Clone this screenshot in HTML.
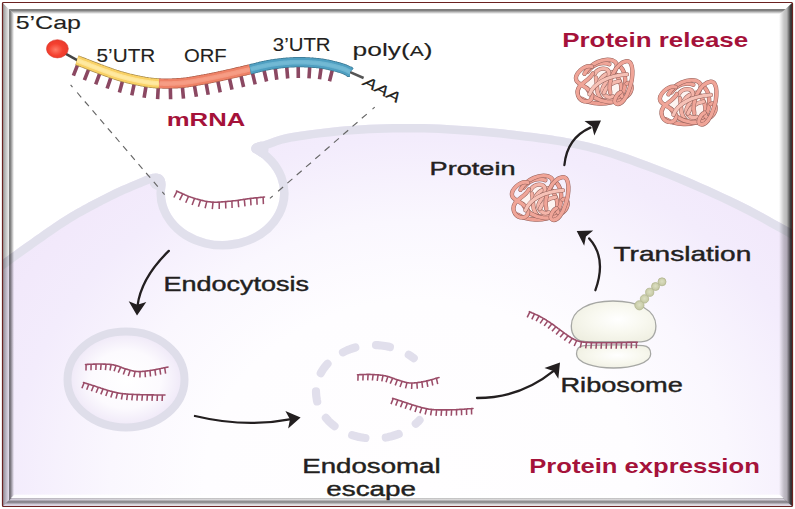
<!DOCTYPE html>
<html lang="en">
<head>
<meta charset="utf-8">
<title>mRNA delivery and protein expression</title>
<style>
html,body{margin:0;padding:0;background:#fff;}
body{width:795px;height:509px;overflow:hidden;}
svg{display:block;}
text{font-family:"Liberation Sans",sans-serif;fill:#231f20;stroke:#231f20;stroke-width:0.12px;}
.m{stroke-width:0.4px;}
.b{font-weight:bold;fill:#a5123a;stroke:none;}
</style>
</head>
<body>
<svg width="795" height="509" viewBox="0 0 795 509">
<defs>
  <radialGradient id="cellg" gradientUnits="userSpaceOnUse" cx="420" cy="480" r="537.5" gradientTransform="translate(420 480) scale(1 0.837) translate(-420 -480)">
    <stop offset="0" stop-color="#fffeff"/>
    <stop offset="0.40" stop-color="#fefdff"/>
    <stop offset="0.576" stop-color="#faf7fe"/>
    <stop offset="0.76" stop-color="#f3ecfc"/>
    <stop offset="0.856" stop-color="#f2e9fb"/>
    <stop offset="1" stop-color="#efe6f9"/>
  </radialGradient>
  <radialGradient id="endog" cx="0.5" cy="0.5" r="0.5">
    <stop offset="0" stop-color="#ffffff"/>
    <stop offset="0.6" stop-color="#fcfafe"/>
    <stop offset="1" stop-color="#eee7f7"/>
  </radialGradient>
  <radialGradient id="capg" cx="0.42" cy="0.55" r="0.6">
    <stop offset="0" stop-color="#ff7a66"/>
    <stop offset="0.55" stop-color="#f4402f"/>
    <stop offset="1" stop-color="#e8392b"/>
  </radialGradient>
  <radialGradient id="ribg" cx="0.55" cy="0.45" r="0.65">
    <stop offset="0" stop-color="#ffffff"/>
    <stop offset="0.5" stop-color="#f8f8ef"/>
    <stop offset="1" stop-color="#eeeee0"/>
  </radialGradient>
  <radialGradient id="beadg" cx="0.5" cy="0.45" r="0.55">
    <stop offset="0" stop-color="#dcdfc2"/>
    <stop offset="1" stop-color="#c4c7a2"/>
  </radialGradient>
  <clipPath id="cellclip"><path id="cellpath" d="M-14 530 L-14.0 272.0 L-11.9 270.4 L-9.1 268.4 L-5.8 265.9 L-2.1 263.2 L1.9 260.2 L6.0 257.2 L10.1 254.2 L14.0 251.4 L17.9 248.6 L22.1 245.6 L26.4 242.5 L30.8 239.4 L35.1 236.3 L39.3 233.4 L43.3 230.6 L47.0 228.0 L50.4 225.7 L53.6 223.5 L56.6 221.5 L59.5 219.6 L62.3 217.8 L65.1 216.0 L67.9 214.3 L70.8 212.5 L73.8 210.7 L76.7 209.0 L79.7 207.4 L82.6 205.8 L85.6 204.2 L88.5 202.6 L91.5 201.1 L94.4 199.5 L97.4 198.0 L100.3 196.4 L103.3 194.9 L106.2 193.4 L109.2 191.9 L112.1 190.5 L115.1 189.1 L118.0 187.7 L121.1 186.3 L124.4 184.9 L127.9 183.4 L131.2 182.0 L134.4 180.7 L137.3 179.5 L139.7 178.6 L141.5 177.8 C150 174 158 171.3 163 176.5 C165.6 179.5 165.4 183 165.6 186 A57.5 48 0 1 0 252.4 152 C249 146.5 253.5 142.3 263 141.5 L265.0 140.8 L267.3 139.9 L270.1 138.9 L273.4 137.7 L277.1 136.5 L281.3 135.2 L286.1 134.1 L291.5 133.0 L297.7 132.0 L304.7 131.0 L312.4 129.9 L320.5 128.9 L329.0 128.0 L337.4 127.1 L345.8 126.3 L353.8 125.7 L361.6 125.2 L369.4 124.8 L377.1 124.4 L384.9 124.2 L392.7 124.0 L400.5 124.0 L408.2 123.9 L416.0 124.0 L423.8 124.1 L431.5 124.3 L439.2 124.6 L447.0 125.0 L454.7 125.4 L462.5 125.9 L470.2 126.4 L478.0 127.0 L486.0 127.7 L494.2 128.5 L502.5 129.3 L510.7 130.3 L518.8 131.2 L526.6 132.2 L533.9 133.1 L540.6 134.0 L546.6 134.8 L552.1 135.6 L557.1 136.4 L561.8 137.1 L566.3 137.9 L570.7 138.8 L575.3 139.7 L580.0 140.7 L584.8 141.8 L589.3 142.8 L593.8 143.9 L598.3 145.1 L602.9 146.4 L607.9 147.8 L613.2 149.5 L619.0 151.4 L625.4 153.6 L632.3 156.0 L639.6 158.7 L647.2 161.5 L655.0 164.4 L662.8 167.4 L670.5 170.4 L678.0 173.5 L685.5 176.6 L693.1 179.8 L700.8 183.2 L708.4 186.6 L716.0 190.0 L723.4 193.4 L730.6 196.7 L737.4 200.0 L744.0 203.3 L750.5 206.6 L756.9 210.0 L763.0 213.3 L768.9 216.6 L774.5 219.7 L779.7 222.6 L784.6 225.3 L789.2 227.8 L793.5 230.3 L797.5 232.6 L801.2 234.7 L804.6 236.7 L807.5 238.4 L810.0 239.9 L812.0 241.0 L812 530 Z"/></clipPath>
  <path id="ah" d="M0 0 L-14 -8.8 L-10.8 0 L-14 8.8 Z" fill="#231f20"/>
  <g id="protein">
<ellipse cx="0" cy="1" rx="20" ry="16" fill="#fdf3f0"/>
<path d="M -22.6 15.7 C -13.7 21.5 2.9 22.7 14.4 16.4" fill="none" stroke="#95615b" stroke-width="4.3" stroke-linecap="round"/><path d="M -22.6 15.7 C -13.7 21.5 2.9 22.7 14.4 16.4" fill="none" stroke="#ee9f92" stroke-width="3.3" stroke-linecap="round"/>
<path d="M -16.9 -11.1 C -11.8 -19.0 -1.9 -21.6 4.9 -18.8" fill="none" stroke="#95615b" stroke-width="4.3" stroke-linecap="round"/><path d="M -16.9 -11.1 C -11.8 -19.0 -1.9 -21.6 4.9 -18.8" fill="none" stroke="#f0a598" stroke-width="3.3" stroke-linecap="round"/>
<path d="M -8.6 -5.4 C -6.6 2.9 -9.2 10.6 -2.8 16.4" fill="none" stroke="#95615b" stroke-width="4.3" stroke-linecap="round"/><path d="M -8.6 -5.4 C -6.6 2.9 -9.2 10.6 -2.8 16.4" fill="none" stroke="#f3b0a3" stroke-width="3.3" stroke-linecap="round"/>
<path d="M -11.1 14.7 C -3.5 18.8 6.8 18.5 14.7 12.1" fill="none" stroke="#95615b" stroke-width="4.3" stroke-linecap="round"/><path d="M -11.1 14.7 C -3.5 18.8 6.8 18.5 14.7 12.1" fill="none" stroke="#f3b0a3" stroke-width="3.3" stroke-linecap="round"/>
<path d="M 11.9 -7.9 C 17.6 0.4 18.9 8.1 13.8 15.1" fill="none" stroke="#95615b" stroke-width="4.3" stroke-linecap="round"/><path d="M 11.9 -7.9 C 17.6 0.4 18.9 8.1 13.8 15.1" fill="none" stroke="#f0a598" stroke-width="3.3" stroke-linecap="round"/>
<path d="M 16.0 -16.2 C 21.1 -11.1 22.4 0.6 18.5 9.6" fill="none" stroke="#95615b" stroke-width="4.3" stroke-linecap="round"/><path d="M 16.0 -16.2 C 21.1 -11.1 22.4 0.6 18.5 9.6" fill="none" stroke="#ee9f92" stroke-width="3.3" stroke-linecap="round"/>
<path d="M -20.1 -9.2 C -13.7 -20.1 -0.9 -25.2 8.1 -22.6 C 15.1 -20.1 12.5 -12.4 6.1 -6.6" fill="none" stroke="#95615b" stroke-width="4.3" stroke-linecap="round"/><path d="M -20.1 -9.2 C -13.7 -20.1 -0.9 -25.2 8.1 -22.6 C 15.1 -20.1 12.5 -12.4 6.1 -6.6" fill="none" stroke="#f0a598" stroke-width="3.3" stroke-linecap="round"/>
<path d="M -5.8 -0.3 C -3.2 -7.0 3.2 -10.9 9.8 -11.1" fill="none" stroke="#95615b" stroke-width="4.3" stroke-linecap="round"/><path d="M -5.8 -0.3 C -3.2 -7.0 3.2 -10.9 9.8 -11.1" fill="none" stroke="#f5b9ad" stroke-width="3.3" stroke-linecap="round"/>
<path d="M -9.8 -9.2 C -6.0 -15.6 3.6 -16.2 4.5 -9.8 C 5.5 -3.5 -0.9 0.4 -1.9 5.5 C -2.9 10.6 2.9 16.4 8.3 13.4" fill="none" stroke="#95615b" stroke-width="4.3" stroke-linecap="round"/><path d="M -9.8 -9.2 C -6.0 -15.6 3.6 -16.2 4.5 -9.8 C 5.5 -3.5 -0.9 0.4 -1.9 5.5 C -2.9 10.6 2.9 16.4 8.3 13.4" fill="none" stroke="#f4b5a9" stroke-width="3.3" stroke-linecap="round"/>
<path d="M -0.6 10.0 C 1.9 3.2 7.0 -0.6 15.0 -1.9" fill="none" stroke="#95615b" stroke-width="4.3" stroke-linecap="round"/><path d="M -0.6 10.0 C 1.9 3.2 7.0 -0.6 15.0 -1.9" fill="none" stroke="#f5b9ad" stroke-width="3.3" stroke-linecap="round"/>
<path d="M -17.5 5.5 C -13.7 13.2 -7.3 17.6 2.9 18.8 C 11.9 19.8 20.8 17.3 23.6 9.3" fill="none" stroke="#95615b" stroke-width="4.3" stroke-linecap="round"/><path d="M -17.5 5.5 C -13.7 13.2 -7.3 17.6 2.9 18.8 C 11.9 19.8 20.8 17.3 23.6 9.3" fill="none" stroke="#f0a598" stroke-width="3.3" stroke-linecap="round"/>
<path d="M -12.7 -16.5 C -20.1 -19.0 -30.5 -8.6 -28.2 -2.7 C -26.7 1.7 -17.3 3.2 -13.4 9.6 C -10.4 15.2 -15.0 19.8 -20.1 18.3 C -26.5 16.7 -29.0 9.3 -25.2 3.7 C -21.9 -0.9 -14.7 -3.2 -11.6 -9.6" fill="none" stroke="#95615b" stroke-width="4.3" stroke-linecap="round"/><path d="M -12.7 -16.5 C -20.1 -19.0 -30.5 -8.6 -28.2 -2.7 C -26.7 1.7 -17.3 3.2 -13.4 9.6 C -10.4 15.2 -15.0 19.8 -20.1 18.3 C -26.5 16.7 -29.0 9.3 -25.2 3.7 C -21.9 -0.9 -14.7 -3.2 -11.6 -9.6" fill="none" stroke="#f0a598" stroke-width="3.3" stroke-linecap="round"/>
<path d="M 22.1 0.6 C 27.5 -2.2 28.8 5.5 24.9 10.9 C 21.1 16.0 15.7 14.7 17.0 10.6" fill="none" stroke="#95615b" stroke-width="4.3" stroke-linecap="round"/><path d="M 22.1 0.6 C 27.5 -2.2 28.8 5.5 24.9 10.9 C 21.1 16.0 15.7 14.7 17.0 10.6" fill="none" stroke="#f0a598" stroke-width="3.3" stroke-linecap="round"/>
<path d="M 5.8 10.0 C 2.9 -3.5 11.9 -20.1 22.1 -21.9 C 30.0 -22.6 28.8 -4.7 24.9 5.5 C 22.4 14.4 17.0 22.4 11.9 20.8 C 7.8 19.6 11.9 10.9 16.0 9.3" fill="none" stroke="#95615b" stroke-width="4.3" stroke-linecap="round"/><path d="M 5.8 10.0 C 2.9 -3.5 11.9 -20.1 22.1 -21.9 C 30.0 -22.6 28.8 -4.7 24.9 5.5 C 22.4 14.4 17.0 22.4 11.9 20.8 C 7.8 19.6 11.9 10.9 16.0 9.3" fill="none" stroke="#f0a598" stroke-width="3.3" stroke-linecap="round"/>
<path d="M -15.0 11.2 C -11.1 0.6 2.9 -7.3 22.4 -8.6" fill="none" stroke="#95615b" stroke-width="4.3" stroke-linecap="round"/><path d="M -15.0 11.2 C -11.1 0.6 2.9 -7.3 22.4 -8.6" fill="none" stroke="#f6c1b6" stroke-width="3.3" stroke-linecap="round"/>
  </g>
  <linearGradient id="fl" x1="0" x2="1" y1="0" y2="0" gradientUnits="objectBoundingBox">
    <stop offset="0" stop-color="#000" stop-opacity="0.40"/>
    <stop offset="0.46" stop-color="#000" stop-opacity="0.09"/>
    <stop offset="0.5" stop-color="#000" stop-opacity="0.52"/>
    <stop offset="0.62" stop-color="#000" stop-opacity="0.50"/>
    <stop offset="0.92" stop-color="#000" stop-opacity="0"/>
    <stop offset="1" stop-color="#000" stop-opacity="0"/>
  </linearGradient>
  <linearGradient id="ft" x1="0" x2="0" y1="0" y2="1">
    <stop offset="0" stop-color="#fff" stop-opacity="1"/>
    <stop offset="0.46" stop-color="#fff" stop-opacity="1"/>
    <stop offset="0.5" stop-color="#000" stop-opacity="0.52"/>
    <stop offset="0.62" stop-color="#000" stop-opacity="0.50"/>
    <stop offset="0.92" stop-color="#000" stop-opacity="0"/>
    <stop offset="1" stop-color="#000" stop-opacity="0"/>
  </linearGradient>
  <linearGradient id="fr" x1="0" x2="1" y1="0" y2="0">
    <stop offset="0" stop-color="#000" stop-opacity="0"/>
    <stop offset="0.38" stop-color="#000" stop-opacity="0.22"/>
    <stop offset="0.6" stop-color="#000" stop-opacity="0.28"/>
    <stop offset="0.9" stop-color="#000" stop-opacity="0.78"/>
    <stop offset="1" stop-color="#000" stop-opacity="0.8"/>
  </linearGradient>
  <linearGradient id="fb" x1="0" x2="0" y1="0" y2="1">
    <stop offset="0" stop-color="#fff" stop-opacity="0"/>
    <stop offset="0.12" stop-color="#fff" stop-opacity="0.9"/>
    <stop offset="0.33" stop-color="#fff" stop-opacity="0.9"/>
    <stop offset="0.40" stop-color="#000" stop-opacity="0.05"/>
    <stop offset="0.66" stop-color="#000" stop-opacity="0.5"/>
    <stop offset="0.9" stop-color="#000" stop-opacity="0.1"/>
    <stop offset="1" stop-color="#000" stop-opacity="0.1"/>
  </linearGradient>
</defs>

<rect width="795" height="509" fill="#fff"/>

<!-- cell body -->
<use href="#cellpath" fill="url(#cellg)"/>
<use href="#cellpath" fill="none" stroke="#e1e0ec" stroke-width="17" stroke-linejoin="round" clip-path="url(#cellclip)"/>
<g clip-path="url(#cellclip)" fill="#e1e0ec"><circle cx="259.5" cy="150" r="9"/><circle cx="158" cy="181.5" r="8.5"/></g>

<!-- dashed zoom guides -->
<path d="M70.6 84.8 L72.5 87.1 M77.2 92.5 L81.2 97.3 M84.8 101.5 L88.9 106.2 M92.5 110.4 L96.5 115.1 M100.2 119.4 L104.2 124.1 M107.8 128.3 L111.9 133.0 M115.5 137.2 L119.5 142.0 M123.1 146.2 L127.2 150.9 M130.8 155.1 L134.8 159.8 M138.5 164.1 L142.5 168.8 M146.1 173.0 L150.2 177.7 M153.8 181.9 L157.8 186.7 M162.3 191.9 L164.6 194.6 M374.7 107.1 L372.5 109.1 M366.8 114.1 L361.8 118.3 M357.5 122.2 L352.5 126.4 M348.2 130.3 L343.2 134.5 M338.9 138.4 L333.9 142.6 M329.6 146.5 L324.6 150.7 M320.3 154.6 L315.3 158.8 M311.0 162.7 L306.0 166.9 M301.7 170.8 L296.7 175.0 M292.4 178.9 L287.4 183.1 M283.1 187.0 L278.1 191.2 M272.7 196.0 L269.9 198.4" fill="none" stroke="#666" stroke-width="1.15"/>

<!-- mRNA cap -->
<path d="M65 53.3 L78 60.6" stroke="#454545" stroke-width="2.5" fill="none"/>
<path d="M349 71.6 L363.6 78" stroke="#555" stroke-width="2.6" fill="none"/>
<path d="M78.0 63.8 L73.4 75.7 M89.1 68.2 L84.4 80.1 M100.1 72.4 L95.7 84.4 M111.3 76.4 L107.1 88.5 M122.8 80.0 L119.4 92.4 M134.4 82.9 L131.8 95.4 M146.2 85.1 L144.1 97.7 M158.3 86.4 L157.6 99.2 M170.3 86.5 L170.6 99.3 M182.3 85.9 L183.5 98.6 M194.2 84.2 L196.4 96.8 M205.9 82.1 L208.2 94.7 M217.6 79.8 L220.2 92.3 M229.2 77.2 L232.0 89.7 M240.7 74.6 L243.6 87.0 M252.2 71.9 L255.2 84.4 M263.7 69.0 L266.6 81.5 M275.1 67.0 L276.8 79.7 M286.6 65.7 L287.7 78.5 M298.2 65.2 L298.3 78.0 M309.8 65.5 L309.0 78.3 M321.3 66.6 L319.5 79.3 M332.6 68.9 L329.5 81.3" fill="none" stroke="#8b4862" stroke-width="3.6"/>
<path d="M77.0 60.2 L77.3 60.3 L77.6 60.4 L78.0 60.6 L78.4 60.7 L78.8 60.9 L79.3 61.1 L79.7 61.3 L80.2 61.5 L80.7 61.7 L81.2 61.9 L81.8 62.1 L82.4 62.3 L82.9 62.5 L83.5 62.8 L84.1 63.0 L84.8 63.2 L85.4 63.5 L86.0 63.7 L86.7 64.0 L87.3 64.3 L88.0 64.5 L88.7 64.8 L89.4 65.0 L90.0 65.3 L90.7 65.6 L91.4 65.8 L92.1 66.1 L92.7 66.4 L93.4 66.6 L94.1 66.9 L94.7 67.1 L95.4 67.4 L96.0 67.6 L96.7 67.9 L97.3 68.1 L97.9 68.3 L98.5 68.6 L99.1 68.8 L99.6 69.0 L100.2 69.2 L100.7 69.4 L101.3 69.6 L101.8 69.8 L102.3 70.0 L102.9 70.2 L103.4 70.4 L103.9 70.6 L104.4 70.8 L104.9 71.0 L105.4 71.1 L106.0 71.3 L106.5 71.5 L107.0 71.7 L107.5 71.9 L108.0 72.1 L108.5 72.2 L109.0 72.4 L109.5 72.6 L110.0 72.8 L110.4 73.0 L110.9 73.1 L111.4 73.3 L111.9 73.5 L112.4 73.7 L112.9 73.8 L113.4 74.0 L113.9 74.2 L114.4 74.3 L114.9 74.5 L115.3 74.7 L115.8 74.8 L116.3 75.0 L116.8 75.1 L117.3 75.3 L117.8 75.4 L118.3 75.6 L118.8 75.8 L119.3 75.9 L119.8 76.1 L120.3 76.2 L120.8 76.3 L121.3 76.5 L121.8 76.6 L122.3 76.8 L122.8 76.9 L123.3 77.1 L123.8 77.2 L124.4 77.3 L124.9 77.5 L125.4 77.6 L125.9 77.7 L126.4 77.9 L126.9 78.0 L127.4 78.1 L127.9 78.3 L128.4 78.4 L128.9 78.5 L129.5 78.6 L130.0 78.8 L130.5 78.9 L131.0 79.0 L131.5 79.1 L132.0 79.2 L132.5 79.4 L133.0 79.5 L133.5 79.6 L134.0 79.7 L134.5 79.8 L135.0 79.9 L135.5 80.0 L136.0 80.1 L136.5 80.2 L137.0 80.3 L137.5 80.4 L138.0 80.5 L138.5 80.6 L139.0 80.7 L139.4 80.8 L139.9 80.9 L140.4 81.0 L140.9 81.1 L141.3 81.2 L141.8 81.3 L142.3 81.3 L142.7 81.4 L143.2 81.5 L143.6 81.6 L144.1 81.7 L144.5 81.8 L145.0 81.8 L145.4 81.9 L145.9 82.0 L146.3 82.1 L146.8 82.1 L147.2 82.2 L147.6 82.3 L148.1 82.3 L148.5 82.4 L148.9 82.5 L149.4 82.5 L149.8 82.6 L150.3 82.6 L150.7 82.7 L151.1 82.8 L151.6 82.8 L152.0 82.9 L152.5 82.9 L152.9 83.0 L153.4 83.0 L153.8 83.1 L154.3 83.1 L154.7 83.1 L155.2 83.2 L155.7 83.2 L156.2 83.3 L156.6 83.3 L157.1 83.3 L157.6 83.3 L158.1 83.4 L158.6 83.4 L159.1 83.4" fill="none" stroke="#a98c4c" stroke-width="10.2"/>
<path d="M77.0 60.2 L77.3 60.3 L77.6 60.4 L78.0 60.6 L78.4 60.7 L78.8 60.9 L79.3 61.1 L79.7 61.3 L80.2 61.5 L80.7 61.7 L81.2 61.9 L81.8 62.1 L82.4 62.3 L82.9 62.5 L83.5 62.8 L84.1 63.0 L84.8 63.2 L85.4 63.5 L86.0 63.7 L86.7 64.0 L87.3 64.3 L88.0 64.5 L88.7 64.8 L89.4 65.0 L90.0 65.3 L90.7 65.6 L91.4 65.8 L92.1 66.1 L92.7 66.4 L93.4 66.6 L94.1 66.9 L94.7 67.1 L95.4 67.4 L96.0 67.6 L96.7 67.9 L97.3 68.1 L97.9 68.3 L98.5 68.6 L99.1 68.8 L99.6 69.0 L100.2 69.2 L100.7 69.4 L101.3 69.6 L101.8 69.8 L102.3 70.0 L102.9 70.2 L103.4 70.4 L103.9 70.6 L104.4 70.8 L104.9 71.0 L105.4 71.1 L106.0 71.3 L106.5 71.5 L107.0 71.7 L107.5 71.9 L108.0 72.1 L108.5 72.2 L109.0 72.4 L109.5 72.6 L110.0 72.8 L110.4 73.0 L110.9 73.1 L111.4 73.3 L111.9 73.5 L112.4 73.7 L112.9 73.8 L113.4 74.0 L113.9 74.2 L114.4 74.3 L114.9 74.5 L115.3 74.7 L115.8 74.8 L116.3 75.0 L116.8 75.1 L117.3 75.3 L117.8 75.4 L118.3 75.6 L118.8 75.8 L119.3 75.9 L119.8 76.1 L120.3 76.2 L120.8 76.3 L121.3 76.5 L121.8 76.6 L122.3 76.8 L122.8 76.9 L123.3 77.1 L123.8 77.2 L124.4 77.3 L124.9 77.5 L125.4 77.6 L125.9 77.7 L126.4 77.9 L126.9 78.0 L127.4 78.1 L127.9 78.3 L128.4 78.4 L128.9 78.5 L129.5 78.6 L130.0 78.8 L130.5 78.9 L131.0 79.0 L131.5 79.1 L132.0 79.2 L132.5 79.4 L133.0 79.5 L133.5 79.6 L134.0 79.7 L134.5 79.8 L135.0 79.9 L135.5 80.0 L136.0 80.1 L136.5 80.2 L137.0 80.3 L137.5 80.4 L138.0 80.5 L138.5 80.6 L139.0 80.7 L139.4 80.8 L139.9 80.9 L140.4 81.0 L140.9 81.1 L141.3 81.2 L141.8 81.3 L142.3 81.3 L142.7 81.4 L143.2 81.5 L143.6 81.6 L144.1 81.7 L144.5 81.8 L145.0 81.8 L145.4 81.9 L145.9 82.0 L146.3 82.1 L146.8 82.1 L147.2 82.2 L147.6 82.3 L148.1 82.3 L148.5 82.4 L148.9 82.5 L149.4 82.5 L149.8 82.6 L150.3 82.6 L150.7 82.7 L151.1 82.8 L151.6 82.8 L152.0 82.9 L152.5 82.9 L152.9 83.0 L153.4 83.0 L153.8 83.1 L154.3 83.1 L154.7 83.1 L155.2 83.2 L155.7 83.2 L156.2 83.3 L156.6 83.3 L157.1 83.3 L157.6 83.3 L158.1 83.4 L158.6 83.4 L159.1 83.4" fill="none" stroke="#f9d165" stroke-width="8.8"/>
<path d="M77.3 60.3 L77.6 60.4 L78.0 60.6 L78.4 60.7 L78.8 60.9 L79.3 61.1 L79.7 61.3 L80.2 61.5 L80.7 61.7 L81.2 61.9 L81.8 62.1 L82.4 62.3 L82.9 62.5 L83.5 62.8 L84.1 63.0 L84.8 63.2 L85.4 63.5 L86.0 63.7 L86.7 64.0 L87.3 64.3 L88.0 64.5 L88.7 64.8 L89.4 65.0 L90.0 65.3 L90.7 65.6 L91.4 65.8 L92.1 66.1 L92.7 66.4 L93.4 66.6 L94.1 66.9 L94.7 67.1 L95.4 67.4 L96.0 67.6 L96.7 67.9 L97.3 68.1 L97.9 68.3 L98.5 68.6 L99.1 68.8 L99.6 69.0 L100.2 69.2 L100.7 69.4 L101.3 69.6 L101.8 69.8 L102.3 70.0 L102.9 70.2 L103.4 70.4 L103.9 70.6 L104.4 70.8 L104.9 71.0 L105.4 71.1 L106.0 71.3 L106.5 71.5 L107.0 71.7 L107.5 71.9 L108.0 72.1 L108.5 72.2 L109.0 72.4 L109.5 72.6 L110.0 72.8 L110.4 73.0 L110.9 73.1 L111.4 73.3 L111.9 73.5 L112.4 73.7 L112.9 73.8 L113.4 74.0 L113.9 74.2 L114.4 74.3 L114.9 74.5 L115.3 74.7 L115.8 74.8 L116.3 75.0 L116.8 75.1 L117.3 75.3 L117.8 75.4 L118.3 75.6 L118.8 75.8 L119.3 75.9 L119.8 76.1 L120.3 76.2 L120.8 76.3 L121.3 76.5 L121.8 76.6 L122.3 76.8 L122.8 76.9 L123.3 77.1 L123.8 77.2 L124.4 77.3 L124.9 77.5 L125.4 77.6 L125.9 77.7 L126.4 77.9 L126.9 78.0 L127.4 78.1 L127.9 78.3 L128.4 78.4 L128.9 78.5 L129.5 78.6 L130.0 78.8 L130.5 78.9 L131.0 79.0 L131.5 79.1 L132.0 79.2 L132.5 79.4 L133.0 79.5 L133.5 79.6 L134.0 79.7 L134.5 79.8 L135.0 79.9 L135.5 80.0 L136.0 80.1 L136.5 80.2 L137.0 80.3 L137.5 80.4 L138.0 80.5 L138.5 80.6 L139.0 80.7 L139.4 80.8 L139.9 80.9 L140.4 81.0 L140.9 81.1 L141.3 81.2 L141.8 81.3 L142.3 81.3 L142.7 81.4 L143.2 81.5 L143.6 81.6 L144.1 81.7 L144.5 81.8 L145.0 81.8 L145.4 81.9 L145.9 82.0 L146.3 82.1 L146.8 82.1 L147.2 82.2 L147.6 82.3 L148.1 82.3 L148.5 82.4 L148.9 82.5 L149.4 82.5 L149.8 82.6 L150.3 82.6 L150.7 82.7 L151.1 82.8 L151.6 82.8 L152.0 82.9 L152.5 82.9 L152.9 83.0 L153.4 83.0 L153.8 83.1 L154.3 83.1 L154.7 83.1 L155.2 83.2 L155.7 83.2 L156.2 83.3 L156.6 83.3 L157.1 83.3 L157.6 83.3 L158.1 83.4 L158.6 83.4" fill="none" stroke="#ffe9a0" stroke-width="4.6" stroke-opacity="0.85"/>
<path d="M77.3 60.3 L77.6 60.4 L78.0 60.6 L78.4 60.7 L78.8 60.9 L79.3 61.1 L79.7 61.3 L80.2 61.5 L80.7 61.7 L81.2 61.9 L81.8 62.1 L82.4 62.3 L82.9 62.5 L83.5 62.8 L84.1 63.0 L84.8 63.2 L85.4 63.5 L86.0 63.7 L86.7 64.0 L87.3 64.3 L88.0 64.5 L88.7 64.8 L89.4 65.0 L90.0 65.3 L90.7 65.6 L91.4 65.8 L92.1 66.1 L92.7 66.4 L93.4 66.6 L94.1 66.9 L94.7 67.1 L95.4 67.4 L96.0 67.6 L96.7 67.9 L97.3 68.1 L97.9 68.3 L98.5 68.6 L99.1 68.8 L99.6 69.0 L100.2 69.2 L100.7 69.4 L101.3 69.6 L101.8 69.8 L102.3 70.0 L102.9 70.2 L103.4 70.4 L103.9 70.6 L104.4 70.8 L104.9 71.0 L105.4 71.1 L106.0 71.3 L106.5 71.5 L107.0 71.7 L107.5 71.9 L108.0 72.1 L108.5 72.2 L109.0 72.4 L109.5 72.6 L110.0 72.8 L110.4 73.0 L110.9 73.1 L111.4 73.3 L111.9 73.5 L112.4 73.7 L112.9 73.8 L113.4 74.0 L113.9 74.2 L114.4 74.3 L114.9 74.5 L115.3 74.7 L115.8 74.8 L116.3 75.0 L116.8 75.1 L117.3 75.3 L117.8 75.4 L118.3 75.6 L118.8 75.8 L119.3 75.9 L119.8 76.1 L120.3 76.2 L120.8 76.3 L121.3 76.5 L121.8 76.6 L122.3 76.8 L122.8 76.9 L123.3 77.1 L123.8 77.2 L124.4 77.3 L124.9 77.5 L125.4 77.6 L125.9 77.7 L126.4 77.9 L126.9 78.0 L127.4 78.1 L127.9 78.3 L128.4 78.4 L128.9 78.5 L129.5 78.6 L130.0 78.8 L130.5 78.9 L131.0 79.0 L131.5 79.1 L132.0 79.2 L132.5 79.4 L133.0 79.5 L133.5 79.6 L134.0 79.7 L134.5 79.8 L135.0 79.9 L135.5 80.0 L136.0 80.1 L136.5 80.2 L137.0 80.3 L137.5 80.4 L138.0 80.5 L138.5 80.6 L139.0 80.7 L139.4 80.8 L139.9 80.9 L140.4 81.0 L140.9 81.1 L141.3 81.2 L141.8 81.3 L142.3 81.3 L142.7 81.4 L143.2 81.5 L143.6 81.6 L144.1 81.7 L144.5 81.8 L145.0 81.8 L145.4 81.9 L145.9 82.0 L146.3 82.1 L146.8 82.1 L147.2 82.2 L147.6 82.3 L148.1 82.3 L148.5 82.4 L148.9 82.5 L149.4 82.5 L149.8 82.6 L150.3 82.6 L150.7 82.7 L151.1 82.8 L151.6 82.8 L152.0 82.9 L152.5 82.9 L152.9 83.0 L153.4 83.0 L153.8 83.1 L154.3 83.1 L154.7 83.1 L155.2 83.2 L155.7 83.2 L156.2 83.3 L156.6 83.3 L157.1 83.3 L157.6 83.3 L158.1 83.4 L158.6 83.4" fill="none" stroke="#ffe9a0" stroke-width="2.2"/>
<path d="M159.1 83.4 L159.6 83.4 L160.1 83.5 L160.7 83.5 L161.2 83.5 L161.7 83.5 L162.3 83.5 L162.8 83.5 L163.3 83.6 L163.9 83.6 L164.5 83.6 L165.0 83.6 L165.6 83.6 L166.1 83.6 L166.7 83.6 L167.3 83.6 L167.8 83.6 L168.4 83.6 L169.0 83.5 L169.5 83.5 L170.1 83.5 L170.7 83.5 L171.2 83.5 L171.8 83.5 L172.4 83.5 L173.0 83.4 L173.5 83.4 L174.1 83.4 L174.7 83.4 L175.2 83.3 L175.8 83.3 L176.3 83.3 L176.9 83.3 L177.5 83.2 L178.0 83.2 L178.6 83.2 L179.1 83.1 L179.6 83.1 L180.2 83.0 L180.7 83.0 L181.2 83.0 L181.8 82.9 L182.3 82.9 L182.8 82.8 L183.3 82.8 L183.8 82.7 L184.3 82.6 L184.8 82.6 L185.4 82.5 L185.9 82.5 L186.4 82.4 L186.9 82.3 L187.4 82.3 L187.9 82.2 L188.4 82.1 L188.9 82.0 L189.4 82.0 L189.9 81.9 L190.4 81.8 L190.9 81.7 L191.4 81.6 L191.9 81.6 L192.4 81.5 L192.8 81.4 L193.3 81.3 L193.8 81.2 L194.3 81.1 L194.8 81.1 L195.3 81.0 L195.8 80.9 L196.3 80.8 L196.8 80.7 L197.3 80.6 L197.8 80.5 L198.3 80.4 L198.8 80.4 L199.3 80.3 L199.8 80.2 L200.3 80.1 L200.8 80.0 L201.3 79.9 L201.8 79.8 L202.3 79.7 L202.8 79.7 L203.3 79.6 L203.7 79.5 L204.2 79.4 L204.7 79.3 L205.2 79.2 L205.6 79.1 L206.1 79.0 L206.6 79.0 L207.0 78.9 L207.5 78.8 L208.0 78.7 L208.4 78.6 L208.9 78.5 L209.4 78.4 L209.9 78.3 L210.3 78.2 L210.8 78.1 L211.3 78.0 L211.8 77.9 L212.3 77.8 L212.8 77.7 L213.3 77.6 L213.8 77.5 L214.3 77.4 L214.8 77.3 L215.3 77.2 L215.8 77.1 L216.4 77.0 L216.9 76.9 L217.5 76.8 L218.0 76.6 L218.6 76.5 L219.2 76.4 L219.8 76.3 L220.4 76.1 L221.0 76.0 L221.6 75.9 L222.3 75.7 L222.9 75.6 L223.6 75.4 L224.3 75.3 L225.0 75.1 L225.7 75.0 L226.4 74.8 L227.1 74.6 L227.9 74.5 L228.6 74.3 L229.4 74.1 L230.1 73.9 L230.9 73.8 L231.7 73.6 L232.5 73.4 L233.3 73.2 L234.0 73.1 L234.8 72.9 L235.6 72.7 L236.4 72.5 L237.2 72.3 L238.0 72.1 L238.7 72.0 L239.5 71.8 L240.3 71.6 L241.1 71.4 L241.8 71.2 L242.6 71.1 L243.3 70.9 L244.1 70.7 L244.8 70.5 L245.5 70.4 L246.2 70.2 L246.9 70.1 L247.6 69.9 L248.3 69.7 L248.9 69.6 L249.6 69.4 L250.2 69.3" fill="none" stroke="#ad5f4a" stroke-width="10.2"/>
<path d="M159.1 83.4 L159.6 83.4 L160.1 83.5 L160.7 83.5 L161.2 83.5 L161.7 83.5 L162.3 83.5 L162.8 83.5 L163.3 83.6 L163.9 83.6 L164.5 83.6 L165.0 83.6 L165.6 83.6 L166.1 83.6 L166.7 83.6 L167.3 83.6 L167.8 83.6 L168.4 83.6 L169.0 83.5 L169.5 83.5 L170.1 83.5 L170.7 83.5 L171.2 83.5 L171.8 83.5 L172.4 83.5 L173.0 83.4 L173.5 83.4 L174.1 83.4 L174.7 83.4 L175.2 83.3 L175.8 83.3 L176.3 83.3 L176.9 83.3 L177.5 83.2 L178.0 83.2 L178.6 83.2 L179.1 83.1 L179.6 83.1 L180.2 83.0 L180.7 83.0 L181.2 83.0 L181.8 82.9 L182.3 82.9 L182.8 82.8 L183.3 82.8 L183.8 82.7 L184.3 82.6 L184.8 82.6 L185.4 82.5 L185.9 82.5 L186.4 82.4 L186.9 82.3 L187.4 82.3 L187.9 82.2 L188.4 82.1 L188.9 82.0 L189.4 82.0 L189.9 81.9 L190.4 81.8 L190.9 81.7 L191.4 81.6 L191.9 81.6 L192.4 81.5 L192.8 81.4 L193.3 81.3 L193.8 81.2 L194.3 81.1 L194.8 81.1 L195.3 81.0 L195.8 80.9 L196.3 80.8 L196.8 80.7 L197.3 80.6 L197.8 80.5 L198.3 80.4 L198.8 80.4 L199.3 80.3 L199.8 80.2 L200.3 80.1 L200.8 80.0 L201.3 79.9 L201.8 79.8 L202.3 79.7 L202.8 79.7 L203.3 79.6 L203.7 79.5 L204.2 79.4 L204.7 79.3 L205.2 79.2 L205.6 79.1 L206.1 79.0 L206.6 79.0 L207.0 78.9 L207.5 78.8 L208.0 78.7 L208.4 78.6 L208.9 78.5 L209.4 78.4 L209.9 78.3 L210.3 78.2 L210.8 78.1 L211.3 78.0 L211.8 77.9 L212.3 77.8 L212.8 77.7 L213.3 77.6 L213.8 77.5 L214.3 77.4 L214.8 77.3 L215.3 77.2 L215.8 77.1 L216.4 77.0 L216.9 76.9 L217.5 76.8 L218.0 76.6 L218.6 76.5 L219.2 76.4 L219.8 76.3 L220.4 76.1 L221.0 76.0 L221.6 75.9 L222.3 75.7 L222.9 75.6 L223.6 75.4 L224.3 75.3 L225.0 75.1 L225.7 75.0 L226.4 74.8 L227.1 74.6 L227.9 74.5 L228.6 74.3 L229.4 74.1 L230.1 73.9 L230.9 73.8 L231.7 73.6 L232.5 73.4 L233.3 73.2 L234.0 73.1 L234.8 72.9 L235.6 72.7 L236.4 72.5 L237.2 72.3 L238.0 72.1 L238.7 72.0 L239.5 71.8 L240.3 71.6 L241.1 71.4 L241.8 71.2 L242.6 71.1 L243.3 70.9 L244.1 70.7 L244.8 70.5 L245.5 70.4 L246.2 70.2 L246.9 70.1 L247.6 69.9 L248.3 69.7 L248.9 69.6 L249.6 69.4 L250.2 69.3" fill="none" stroke="#ee8166" stroke-width="8.8"/>
<path d="M159.6 83.4 L160.1 83.5 L160.7 83.5 L161.2 83.5 L161.7 83.5 L162.3 83.5 L162.8 83.5 L163.3 83.6 L163.9 83.6 L164.5 83.6 L165.0 83.6 L165.6 83.6 L166.1 83.6 L166.7 83.6 L167.3 83.6 L167.8 83.6 L168.4 83.6 L169.0 83.5 L169.5 83.5 L170.1 83.5 L170.7 83.5 L171.2 83.5 L171.8 83.5 L172.4 83.5 L173.0 83.4 L173.5 83.4 L174.1 83.4 L174.7 83.4 L175.2 83.3 L175.8 83.3 L176.3 83.3 L176.9 83.3 L177.5 83.2 L178.0 83.2 L178.6 83.2 L179.1 83.1 L179.6 83.1 L180.2 83.0 L180.7 83.0 L181.2 83.0 L181.8 82.9 L182.3 82.9 L182.8 82.8 L183.3 82.8 L183.8 82.7 L184.3 82.6 L184.8 82.6 L185.4 82.5 L185.9 82.5 L186.4 82.4 L186.9 82.3 L187.4 82.3 L187.9 82.2 L188.4 82.1 L188.9 82.0 L189.4 82.0 L189.9 81.9 L190.4 81.8 L190.9 81.7 L191.4 81.6 L191.9 81.6 L192.4 81.5 L192.8 81.4 L193.3 81.3 L193.8 81.2 L194.3 81.1 L194.8 81.1 L195.3 81.0 L195.8 80.9 L196.3 80.8 L196.8 80.7 L197.3 80.6 L197.8 80.5 L198.3 80.4 L198.8 80.4 L199.3 80.3 L199.8 80.2 L200.3 80.1 L200.8 80.0 L201.3 79.9 L201.8 79.8 L202.3 79.7 L202.8 79.7 L203.3 79.6 L203.7 79.5 L204.2 79.4 L204.7 79.3 L205.2 79.2 L205.6 79.1 L206.1 79.0 L206.6 79.0 L207.0 78.9 L207.5 78.8 L208.0 78.7 L208.4 78.6 L208.9 78.5 L209.4 78.4 L209.9 78.3 L210.3 78.2 L210.8 78.1 L211.3 78.0 L211.8 77.9 L212.3 77.8 L212.8 77.7 L213.3 77.6 L213.8 77.5 L214.3 77.4 L214.8 77.3 L215.3 77.2 L215.8 77.1 L216.4 77.0 L216.9 76.9 L217.5 76.8 L218.0 76.6 L218.6 76.5 L219.2 76.4 L219.8 76.3 L220.4 76.1 L221.0 76.0 L221.6 75.9 L222.3 75.7 L222.9 75.6 L223.6 75.4 L224.3 75.3 L225.0 75.1 L225.7 75.0 L226.4 74.8 L227.1 74.6 L227.9 74.5 L228.6 74.3 L229.4 74.1 L230.1 73.9 L230.9 73.8 L231.7 73.6 L232.5 73.4 L233.3 73.2 L234.0 73.1 L234.8 72.9 L235.6 72.7 L236.4 72.5 L237.2 72.3 L238.0 72.1 L238.7 72.0 L239.5 71.8 L240.3 71.6 L241.1 71.4 L241.8 71.2 L242.6 71.1 L243.3 70.9 L244.1 70.7 L244.8 70.5 L245.5 70.4 L246.2 70.2 L246.9 70.1 L247.6 69.9 L248.3 69.7 L248.9 69.6 L249.6 69.4" fill="none" stroke="#f69d85" stroke-width="4.6" stroke-opacity="0.85"/>
<path d="M159.6 83.4 L160.1 83.5 L160.7 83.5 L161.2 83.5 L161.7 83.5 L162.3 83.5 L162.8 83.5 L163.3 83.6 L163.9 83.6 L164.5 83.6 L165.0 83.6 L165.6 83.6 L166.1 83.6 L166.7 83.6 L167.3 83.6 L167.8 83.6 L168.4 83.6 L169.0 83.5 L169.5 83.5 L170.1 83.5 L170.7 83.5 L171.2 83.5 L171.8 83.5 L172.4 83.5 L173.0 83.4 L173.5 83.4 L174.1 83.4 L174.7 83.4 L175.2 83.3 L175.8 83.3 L176.3 83.3 L176.9 83.3 L177.5 83.2 L178.0 83.2 L178.6 83.2 L179.1 83.1 L179.6 83.1 L180.2 83.0 L180.7 83.0 L181.2 83.0 L181.8 82.9 L182.3 82.9 L182.8 82.8 L183.3 82.8 L183.8 82.7 L184.3 82.6 L184.8 82.6 L185.4 82.5 L185.9 82.5 L186.4 82.4 L186.9 82.3 L187.4 82.3 L187.9 82.2 L188.4 82.1 L188.9 82.0 L189.4 82.0 L189.9 81.9 L190.4 81.8 L190.9 81.7 L191.4 81.6 L191.9 81.6 L192.4 81.5 L192.8 81.4 L193.3 81.3 L193.8 81.2 L194.3 81.1 L194.8 81.1 L195.3 81.0 L195.8 80.9 L196.3 80.8 L196.8 80.7 L197.3 80.6 L197.8 80.5 L198.3 80.4 L198.8 80.4 L199.3 80.3 L199.8 80.2 L200.3 80.1 L200.8 80.0 L201.3 79.9 L201.8 79.8 L202.3 79.7 L202.8 79.7 L203.3 79.6 L203.7 79.5 L204.2 79.4 L204.7 79.3 L205.2 79.2 L205.6 79.1 L206.1 79.0 L206.6 79.0 L207.0 78.9 L207.5 78.8 L208.0 78.7 L208.4 78.6 L208.9 78.5 L209.4 78.4 L209.9 78.3 L210.3 78.2 L210.8 78.1 L211.3 78.0 L211.8 77.9 L212.3 77.8 L212.8 77.7 L213.3 77.6 L213.8 77.5 L214.3 77.4 L214.8 77.3 L215.3 77.2 L215.8 77.1 L216.4 77.0 L216.9 76.9 L217.5 76.8 L218.0 76.6 L218.6 76.5 L219.2 76.4 L219.8 76.3 L220.4 76.1 L221.0 76.0 L221.6 75.9 L222.3 75.7 L222.9 75.6 L223.6 75.4 L224.3 75.3 L225.0 75.1 L225.7 75.0 L226.4 74.8 L227.1 74.6 L227.9 74.5 L228.6 74.3 L229.4 74.1 L230.1 73.9 L230.9 73.8 L231.7 73.6 L232.5 73.4 L233.3 73.2 L234.0 73.1 L234.8 72.9 L235.6 72.7 L236.4 72.5 L237.2 72.3 L238.0 72.1 L238.7 72.0 L239.5 71.8 L240.3 71.6 L241.1 71.4 L241.8 71.2 L242.6 71.1 L243.3 70.9 L244.1 70.7 L244.8 70.5 L245.5 70.4 L246.2 70.2 L246.9 70.1 L247.6 69.9 L248.3 69.7 L248.9 69.6 L249.6 69.4" fill="none" stroke="#f69d85" stroke-width="2.2"/>
<path d="M250.2 69.3 L250.8 69.2 L251.4 69.0 L252.0 68.9 L252.6 68.7 L253.1 68.6 L253.7 68.5 L254.2 68.3 L254.7 68.2 L255.2 68.1 L255.7 68.0 L256.2 67.8 L256.7 67.7 L257.2 67.6 L257.7 67.5 L258.2 67.3 L258.7 67.2 L259.1 67.1 L259.6 67.0 L260.0 66.9 L260.5 66.7 L261.0 66.6 L261.4 66.5 L261.9 66.4 L262.3 66.3 L262.8 66.2 L263.3 66.1 L263.7 66.0 L264.2 65.9 L264.7 65.8 L265.1 65.7 L265.6 65.6 L266.1 65.5 L266.6 65.4 L267.1 65.3 L267.6 65.2 L268.1 65.1 L268.7 65.0 L269.2 64.9 L269.7 64.8 L270.3 64.7 L270.9 64.6 L271.4 64.5 L272.0 64.4 L272.6 64.3 L273.2 64.3 L273.8 64.2 L274.4 64.1 L275.0 64.0 L275.6 63.9 L276.2 63.8 L276.9 63.8 L277.5 63.7 L278.1 63.6 L278.7 63.5 L279.4 63.4 L280.0 63.4 L280.7 63.3 L281.3 63.2 L281.9 63.1 L282.6 63.1 L283.2 63.0 L283.9 62.9 L284.5 62.9 L285.2 62.8 L285.8 62.8 L286.5 62.7 L287.1 62.7 L287.8 62.6 L288.4 62.6 L289.1 62.5 L289.7 62.5 L290.4 62.4 L291.0 62.4 L291.7 62.3 L292.3 62.3 L293.0 62.3 L293.6 62.3 L294.2 62.2 L294.9 62.2 L295.5 62.2 L296.1 62.2 L296.8 62.2 L297.4 62.2 L298.0 62.2 L298.7 62.2 L299.3 62.2 L300.0 62.2 L300.6 62.2 L301.3 62.2 L301.9 62.2 L302.5 62.2 L303.2 62.2 L303.8 62.2 L304.5 62.2 L305.1 62.3 L305.8 62.3 L306.4 62.3 L307.1 62.3 L307.7 62.4 L308.4 62.4 L309.0 62.4 L309.6 62.5 L310.3 62.5 L310.9 62.6 L311.6 62.6 L312.2 62.7 L312.8 62.7 L313.4 62.8 L314.1 62.8 L314.7 62.9 L315.3 62.9 L315.9 63.0 L316.5 63.0 L317.1 63.1 L317.7 63.2 L318.3 63.2 L318.9 63.3 L319.5 63.4 L320.0 63.4 L320.6 63.5 L321.2 63.6 L321.7 63.7 L322.3 63.7 L322.9 63.8 L323.4 63.9 L324.0 64.0 L324.6 64.1 L325.1 64.2 L325.7 64.3 L326.3 64.4 L326.8 64.5 L327.4 64.6 L327.9 64.7 L328.5 64.9 L329.0 65.0 L329.6 65.1 L330.1 65.2 L330.6 65.3 L331.2 65.5 L331.7 65.6 L332.2 65.7 L332.7 65.8 L333.2 66.0 L333.7 66.1 L334.2 66.2 L334.7 66.3 L335.2 66.5 L335.7 66.6 L336.2 66.7 L336.6 66.8 L337.1 67.0 L337.5 67.1 L338.0 67.2 L338.4 67.3 L338.8 67.4 L339.2 67.6 L339.7 67.7 L340.0 67.8 L340.4 67.9 L340.8 68.0 L341.2 68.1 L341.5 68.2 L341.9 68.3 L342.2 68.4 L342.5 68.6 L342.9 68.7 L343.2 68.8 L343.5 68.9 L343.8 69.0 L344.1 69.1 L344.4 69.2 L344.7 69.4 L344.9 69.5 L345.2 69.6 L345.5 69.7 L345.7 69.8 L346.0 69.9 L346.2 70.1 L346.4 70.2 L346.7 70.3 L346.9 70.4 L347.1 70.5 L347.3 70.6 L347.5 70.7 L347.7 70.8 L347.9 70.9 L348.1 71.0 L348.3 71.1 L348.4 71.2 L348.6 71.3 L348.8 71.4 L348.9 71.5 L349.1 71.5 L349.2 71.6 L349.4 71.7 L349.5 71.8 L349.6 71.8 L349.8 71.9 L349.9 71.9 L350.0 72.0" fill="none" stroke="#3a7690" stroke-width="10.2"/>
<path d="M250.2 69.3 L250.8 69.2 L251.4 69.0 L252.0 68.9 L252.6 68.7 L253.1 68.6 L253.7 68.5 L254.2 68.3 L254.7 68.2 L255.2 68.1 L255.7 68.0 L256.2 67.8 L256.7 67.7 L257.2 67.6 L257.7 67.5 L258.2 67.3 L258.7 67.2 L259.1 67.1 L259.6 67.0 L260.0 66.9 L260.5 66.7 L261.0 66.6 L261.4 66.5 L261.9 66.4 L262.3 66.3 L262.8 66.2 L263.3 66.1 L263.7 66.0 L264.2 65.9 L264.7 65.8 L265.1 65.7 L265.6 65.6 L266.1 65.5 L266.6 65.4 L267.1 65.3 L267.6 65.2 L268.1 65.1 L268.7 65.0 L269.2 64.9 L269.7 64.8 L270.3 64.7 L270.9 64.6 L271.4 64.5 L272.0 64.4 L272.6 64.3 L273.2 64.3 L273.8 64.2 L274.4 64.1 L275.0 64.0 L275.6 63.9 L276.2 63.8 L276.9 63.8 L277.5 63.7 L278.1 63.6 L278.7 63.5 L279.4 63.4 L280.0 63.4 L280.7 63.3 L281.3 63.2 L281.9 63.1 L282.6 63.1 L283.2 63.0 L283.9 62.9 L284.5 62.9 L285.2 62.8 L285.8 62.8 L286.5 62.7 L287.1 62.7 L287.8 62.6 L288.4 62.6 L289.1 62.5 L289.7 62.5 L290.4 62.4 L291.0 62.4 L291.7 62.3 L292.3 62.3 L293.0 62.3 L293.6 62.3 L294.2 62.2 L294.9 62.2 L295.5 62.2 L296.1 62.2 L296.8 62.2 L297.4 62.2 L298.0 62.2 L298.7 62.2 L299.3 62.2 L300.0 62.2 L300.6 62.2 L301.3 62.2 L301.9 62.2 L302.5 62.2 L303.2 62.2 L303.8 62.2 L304.5 62.2 L305.1 62.3 L305.8 62.3 L306.4 62.3 L307.1 62.3 L307.7 62.4 L308.4 62.4 L309.0 62.4 L309.6 62.5 L310.3 62.5 L310.9 62.6 L311.6 62.6 L312.2 62.7 L312.8 62.7 L313.4 62.8 L314.1 62.8 L314.7 62.9 L315.3 62.9 L315.9 63.0 L316.5 63.0 L317.1 63.1 L317.7 63.2 L318.3 63.2 L318.9 63.3 L319.5 63.4 L320.0 63.4 L320.6 63.5 L321.2 63.6 L321.7 63.7 L322.3 63.7 L322.9 63.8 L323.4 63.9 L324.0 64.0 L324.6 64.1 L325.1 64.2 L325.7 64.3 L326.3 64.4 L326.8 64.5 L327.4 64.6 L327.9 64.7 L328.5 64.9 L329.0 65.0 L329.6 65.1 L330.1 65.2 L330.6 65.3 L331.2 65.5 L331.7 65.6 L332.2 65.7 L332.7 65.8 L333.2 66.0 L333.7 66.1 L334.2 66.2 L334.7 66.3 L335.2 66.5 L335.7 66.6 L336.2 66.7 L336.6 66.8 L337.1 67.0 L337.5 67.1 L338.0 67.2 L338.4 67.3 L338.8 67.4 L339.2 67.6 L339.7 67.7 L340.0 67.8 L340.4 67.9 L340.8 68.0 L341.2 68.1 L341.5 68.2 L341.9 68.3 L342.2 68.4 L342.5 68.6 L342.9 68.7 L343.2 68.8 L343.5 68.9 L343.8 69.0 L344.1 69.1 L344.4 69.2 L344.7 69.4 L344.9 69.5 L345.2 69.6 L345.5 69.7 L345.7 69.8 L346.0 69.9 L346.2 70.1 L346.4 70.2 L346.7 70.3 L346.9 70.4 L347.1 70.5 L347.3 70.6 L347.5 70.7 L347.7 70.8 L347.9 70.9 L348.1 71.0 L348.3 71.1 L348.4 71.2 L348.6 71.3 L348.8 71.4 L348.9 71.5 L349.1 71.5 L349.2 71.6 L349.4 71.7 L349.5 71.8 L349.6 71.8 L349.8 71.9 L349.9 71.9 L350.0 72.0" fill="none" stroke="#4f9fc1" stroke-width="8.8"/>
<path d="M250.8 69.2 L251.4 69.0 L252.0 68.9 L252.6 68.7 L253.1 68.6 L253.7 68.5 L254.2 68.3 L254.7 68.2 L255.2 68.1 L255.7 68.0 L256.2 67.8 L256.7 67.7 L257.2 67.6 L257.7 67.5 L258.2 67.3 L258.7 67.2 L259.1 67.1 L259.6 67.0 L260.0 66.9 L260.5 66.7 L261.0 66.6 L261.4 66.5 L261.9 66.4 L262.3 66.3 L262.8 66.2 L263.3 66.1 L263.7 66.0 L264.2 65.9 L264.7 65.8 L265.1 65.7 L265.6 65.6 L266.1 65.5 L266.6 65.4 L267.1 65.3 L267.6 65.2 L268.1 65.1 L268.7 65.0 L269.2 64.9 L269.7 64.8 L270.3 64.7 L270.9 64.6 L271.4 64.5 L272.0 64.4 L272.6 64.3 L273.2 64.3 L273.8 64.2 L274.4 64.1 L275.0 64.0 L275.6 63.9 L276.2 63.8 L276.9 63.8 L277.5 63.7 L278.1 63.6 L278.7 63.5 L279.4 63.4 L280.0 63.4 L280.7 63.3 L281.3 63.2 L281.9 63.1 L282.6 63.1 L283.2 63.0 L283.9 62.9 L284.5 62.9 L285.2 62.8 L285.8 62.8 L286.5 62.7 L287.1 62.7 L287.8 62.6 L288.4 62.6 L289.1 62.5 L289.7 62.5 L290.4 62.4 L291.0 62.4 L291.7 62.3 L292.3 62.3 L293.0 62.3 L293.6 62.3 L294.2 62.2 L294.9 62.2 L295.5 62.2 L296.1 62.2 L296.8 62.2 L297.4 62.2 L298.0 62.2 L298.7 62.2 L299.3 62.2 L300.0 62.2 L300.6 62.2 L301.3 62.2 L301.9 62.2 L302.5 62.2 L303.2 62.2 L303.8 62.2 L304.5 62.2 L305.1 62.3 L305.8 62.3 L306.4 62.3 L307.1 62.3 L307.7 62.4 L308.4 62.4 L309.0 62.4 L309.6 62.5 L310.3 62.5 L310.9 62.6 L311.6 62.6 L312.2 62.7 L312.8 62.7 L313.4 62.8 L314.1 62.8 L314.7 62.9 L315.3 62.9 L315.9 63.0 L316.5 63.0 L317.1 63.1 L317.7 63.2 L318.3 63.2 L318.9 63.3 L319.5 63.4 L320.0 63.4 L320.6 63.5 L321.2 63.6 L321.7 63.7 L322.3 63.7 L322.9 63.8 L323.4 63.9 L324.0 64.0 L324.6 64.1 L325.1 64.2 L325.7 64.3 L326.3 64.4 L326.8 64.5 L327.4 64.6 L327.9 64.7 L328.5 64.9 L329.0 65.0 L329.6 65.1 L330.1 65.2 L330.6 65.3 L331.2 65.5 L331.7 65.6 L332.2 65.7 L332.7 65.8 L333.2 66.0 L333.7 66.1 L334.2 66.2 L334.7 66.3 L335.2 66.5 L335.7 66.6 L336.2 66.7 L336.6 66.8 L337.1 67.0 L337.5 67.1 L338.0 67.2 L338.4 67.3 L338.8 67.4 L339.2 67.6 L339.7 67.7 L340.0 67.8 L340.4 67.9 L340.8 68.0 L341.2 68.1 L341.5 68.2 L341.9 68.3 L342.2 68.4 L342.5 68.6 L342.9 68.7 L343.2 68.8 L343.5 68.9 L343.8 69.0 L344.1 69.1 L344.4 69.2 L344.7 69.4 L344.9 69.5 L345.2 69.6 L345.5 69.7 L345.7 69.8 L346.0 69.9 L346.2 70.1 L346.4 70.2 L346.7 70.3 L346.9 70.4 L347.1 70.5 L347.3 70.6 L347.5 70.7 L347.7 70.8 L347.9 70.9 L348.1 71.0 L348.3 71.1 L348.4 71.2 L348.6 71.3 L348.8 71.4 L348.9 71.5 L349.1 71.5 L349.2 71.6 L349.4 71.7 L349.5 71.8 L349.6 71.8 L349.8 71.9 L349.9 71.9" fill="none" stroke="#72b9d4" stroke-width="4.6" stroke-opacity="0.85"/>
<path d="M250.8 69.2 L251.4 69.0 L252.0 68.9 L252.6 68.7 L253.1 68.6 L253.7 68.5 L254.2 68.3 L254.7 68.2 L255.2 68.1 L255.7 68.0 L256.2 67.8 L256.7 67.7 L257.2 67.6 L257.7 67.5 L258.2 67.3 L258.7 67.2 L259.1 67.1 L259.6 67.0 L260.0 66.9 L260.5 66.7 L261.0 66.6 L261.4 66.5 L261.9 66.4 L262.3 66.3 L262.8 66.2 L263.3 66.1 L263.7 66.0 L264.2 65.9 L264.7 65.8 L265.1 65.7 L265.6 65.6 L266.1 65.5 L266.6 65.4 L267.1 65.3 L267.6 65.2 L268.1 65.1 L268.7 65.0 L269.2 64.9 L269.7 64.8 L270.3 64.7 L270.9 64.6 L271.4 64.5 L272.0 64.4 L272.6 64.3 L273.2 64.3 L273.8 64.2 L274.4 64.1 L275.0 64.0 L275.6 63.9 L276.2 63.8 L276.9 63.8 L277.5 63.7 L278.1 63.6 L278.7 63.5 L279.4 63.4 L280.0 63.4 L280.7 63.3 L281.3 63.2 L281.9 63.1 L282.6 63.1 L283.2 63.0 L283.9 62.9 L284.5 62.9 L285.2 62.8 L285.8 62.8 L286.5 62.7 L287.1 62.7 L287.8 62.6 L288.4 62.6 L289.1 62.5 L289.7 62.5 L290.4 62.4 L291.0 62.4 L291.7 62.3 L292.3 62.3 L293.0 62.3 L293.6 62.3 L294.2 62.2 L294.9 62.2 L295.5 62.2 L296.1 62.2 L296.8 62.2 L297.4 62.2 L298.0 62.2 L298.7 62.2 L299.3 62.2 L300.0 62.2 L300.6 62.2 L301.3 62.2 L301.9 62.2 L302.5 62.2 L303.2 62.2 L303.8 62.2 L304.5 62.2 L305.1 62.3 L305.8 62.3 L306.4 62.3 L307.1 62.3 L307.7 62.4 L308.4 62.4 L309.0 62.4 L309.6 62.5 L310.3 62.5 L310.9 62.6 L311.6 62.6 L312.2 62.7 L312.8 62.7 L313.4 62.8 L314.1 62.8 L314.7 62.9 L315.3 62.9 L315.9 63.0 L316.5 63.0 L317.1 63.1 L317.7 63.2 L318.3 63.2 L318.9 63.3 L319.5 63.4 L320.0 63.4 L320.6 63.5 L321.2 63.6 L321.7 63.7 L322.3 63.7 L322.9 63.8 L323.4 63.9 L324.0 64.0 L324.6 64.1 L325.1 64.2 L325.7 64.3 L326.3 64.4 L326.8 64.5 L327.4 64.6 L327.9 64.7 L328.5 64.9 L329.0 65.0 L329.6 65.1 L330.1 65.2 L330.6 65.3 L331.2 65.5 L331.7 65.6 L332.2 65.7 L332.7 65.8 L333.2 66.0 L333.7 66.1 L334.2 66.2 L334.7 66.3 L335.2 66.5 L335.7 66.6 L336.2 66.7 L336.6 66.8 L337.1 67.0 L337.5 67.1 L338.0 67.2 L338.4 67.3 L338.8 67.4 L339.2 67.6 L339.7 67.7 L340.0 67.8 L340.4 67.9 L340.8 68.0 L341.2 68.1 L341.5 68.2 L341.9 68.3 L342.2 68.4 L342.5 68.6 L342.9 68.7 L343.2 68.8 L343.5 68.9 L343.8 69.0 L344.1 69.1 L344.4 69.2 L344.7 69.4 L344.9 69.5 L345.2 69.6 L345.5 69.7 L345.7 69.8 L346.0 69.9 L346.2 70.1 L346.4 70.2 L346.7 70.3 L346.9 70.4 L347.1 70.5 L347.3 70.6 L347.5 70.7 L347.7 70.8 L347.9 70.9 L348.1 71.0 L348.3 71.1 L348.4 71.2 L348.6 71.3 L348.8 71.4 L348.9 71.5 L349.1 71.5 L349.2 71.6 L349.4 71.7 L349.5 71.8 L349.6 71.8 L349.8 71.9 L349.9 71.9" fill="none" stroke="#72b9d4" stroke-width="2.2"/>
<ellipse cx="57.4" cy="48.8" rx="10.9" ry="9.1" fill="url(#capg)" stroke="#d8352a" stroke-width="0.6"/>

<!-- endosome -->
<ellipse cx="126" cy="379.5" rx="58.5" ry="48" fill="url(#endog)" stroke="#dfdeea" stroke-width="8"/>
<!-- ruptured endosome -->
<path d="M408.8 354.8 L409.5 355.2 L410.1 355.6 L410.7 356.0 L411.3 356.4 L411.9 356.8 L412.5 357.3 L413.1 357.7 L413.7 358.2 M376.0 345.1 L377.8 345.2 L379.5 345.3 L381.3 345.5 L383.0 345.7 L384.8 346.0 L386.5 346.3 L388.2 346.6 L389.9 347.0 M343.0 352.3 L344.4 351.6 L345.9 350.9 L347.4 350.2 L349.0 349.6 L350.5 349.0 L352.1 348.5 L353.7 348.0 L355.3 347.5 M320.8 373.1 L321.5 371.9 L322.2 370.7 L323.0 369.5 L323.8 368.3 L324.7 367.2 L325.6 366.0 L326.5 364.9 L327.5 363.8 M317.2 401.4 L316.9 400.2 L316.7 398.9 L316.5 397.7 L316.3 396.4 L316.2 395.2 L316.1 393.9 L316.0 392.7 L316.0 391.4 M334.5 426.1 L333.3 425.1 L332.1 424.2 L331.0 423.2 L329.9 422.2 L328.8 421.2 L327.8 420.1 L326.8 419.0 L325.9 417.9 M365.4 438.0 L363.7 437.8 L362.0 437.5 L360.3 437.2 L358.7 436.9 L357.0 436.5 L355.4 436.1 L353.8 435.6 L352.2 435.1 M398.7 433.9 L397.2 434.5 L395.6 435.0 L394.0 435.5 L392.4 436.0 L390.8 436.4 L389.1 436.8 L387.5 437.2 L385.8 437.5 M419.5 420.2 L419.0 420.7 L418.6 421.1 L418.2 421.6 L417.7 422.0 L417.2 422.4 L416.8 422.9 L416.3 423.3 L415.8 423.7" fill="none" stroke="#e1dfec" stroke-width="8.2" stroke-linecap="round" stroke-linejoin="round"/>

<!-- ribosome -->
<path d="M571.3 326 C571.3 310 589 301 613 301 C638 301 655.9 310 655.9 326 C655.9 336 650 341.6 641 341.8 L586 341.6 C577 341.5 571.3 336 571.3 326 Z" fill="url(#ribg)" stroke="#a6a7a4" stroke-width="1.3"/>
<path d="M584 345.6 C600 344.6 630 344.6 643 345.6 C649 346 650.7 350 650.7 354 C650.7 363 632 368 613.5 368 C595 368 576.5 363 576.5 354 C576.5 350 578 346 584 345.6 Z" fill="url(#ribg)" stroke="#a6a7a4" stroke-width="1.3"/>
<circle cx="662" cy="281.8" r="4" fill="url(#beadg)" stroke="#b3b691" stroke-width="0.8"/>
<circle cx="655.5" cy="286.5" r="4" fill="url(#beadg)" stroke="#b3b691" stroke-width="0.8"/>
<circle cx="649.7" cy="292.3" r="4.1" fill="url(#beadg)" stroke="#b3b691" stroke-width="0.8"/>
<circle cx="644.5" cy="298.9" r="4.2" fill="url(#beadg)" stroke="#b3b691" stroke-width="0.8"/>
<circle cx="639.4" cy="305.3" r="4.6" fill="url(#beadg)" stroke="#b3b691" stroke-width="0.8"/>
<path d="M176.5 191.0 L176.8 191.1 L177.2 191.3 L177.7 191.5 L178.1 191.7 L178.7 192.0 L179.2 192.2 L179.8 192.5 L180.4 192.8 L181.0 193.0 L181.7 193.3 L182.4 193.7 L183.1 194.0 L183.8 194.3 L184.5 194.6 L185.2 194.9 L186.0 195.2 L186.8 195.6 L187.5 195.9 L188.3 196.2 L189.0 196.5 L189.8 196.7 L190.5 197.0 L191.3 197.3 L192.0 197.5 L192.7 197.7 L193.5 198.0 L194.2 198.2 L194.9 198.4 L195.7 198.7 L196.5 198.9 L197.2 199.1 L198.0 199.4 L198.8 199.6 L199.6 199.8 L200.4 200.0 L201.2 200.2 L202.0 200.4 L202.8 200.6 L203.6 200.8 L204.4 201.0 L205.2 201.2 L206.0 201.3 L206.9 201.5 L207.7 201.6 L208.5 201.7 L209.3 201.8 L210.2 201.9 L211.0 202.0 L211.8 202.1 L212.7 202.1 L213.5 202.1 L214.4 202.2 L215.3 202.2 L216.2 202.2 L217.1 202.2 L218.0 202.1 L218.9 202.1 L219.8 202.0 L220.7 202.0 L221.6 201.9 L222.5 201.9 L223.4 201.8 L224.3 201.7 L225.1 201.6 L226.0 201.6 L226.9 201.5 L227.8 201.4 L228.7 201.3 L229.5 201.2 L230.3 201.2 L231.2 201.1 L232.0 201.0 L232.8 200.9 L233.6 200.8 L234.4 200.8 L235.2 200.7 L236.0 200.6 L236.8 200.5 L237.6 200.4 L238.4 200.2 L239.1 200.1 L239.9 200.0 L240.7 199.9 L241.4 199.8 L242.2 199.7 L242.9 199.5 L243.6 199.4 L244.4 199.3 L245.1 199.2 L245.8 199.1 L246.5 199.0 L247.2 198.9 L247.9 198.8 L248.6 198.7 L249.3 198.6 L250.0 198.5 L250.7 198.4 L251.4 198.3 L252.1 198.3 L252.8 198.2 L253.5 198.1 L254.2 198.0 L254.9 197.9 L255.6 197.9 L256.3 197.8 L257.0 197.7 L257.7 197.7 L258.4 197.6 L259.0 197.5 L259.7 197.5 L260.3 197.4 L260.9 197.4 L261.4 197.3 L262.0 197.2 L262.5 197.2 L263.0 197.2 L263.4 197.1 L263.8 197.1 L264.2 197.0 L264.5 197.0" fill="none" stroke="#9b4d69" stroke-width="1.60" stroke-linecap="round"/><path d="M177.1 191.2 L173.9 197.5 M182.8 193.8 L179.6 200.1 M188.6 196.3 L185.7 202.7 M194.6 198.3 L192.1 204.9 M200.6 200.1 L198.4 206.7 M206.8 201.4 L205.1 208.2 M213.0 202.1 L212.3 209.1 M219.3 202.1 L219.2 209.1 M225.6 201.6 L225.8 208.6 M231.9 201.0 L232.1 208.0 M238.1 200.3 L238.7 207.3 M244.3 199.3 L245.0 206.3 M250.6 198.4 L251.0 205.4 M256.8 197.7 L257.1 204.7 M263.1 197.1 L263.4 204.1" fill="none" stroke="#9b4d69" stroke-width="1.55"/>
<path d="M85.5 364.5 L85.8 364.5 L86.2 364.5 L86.6 364.5 L87.1 364.4 L87.6 364.4 L88.1 364.4 L88.7 364.3 L89.3 364.3 L89.9 364.3 L90.5 364.3 L91.2 364.2 L91.9 364.2 L92.6 364.2 L93.3 364.1 L94.0 364.1 L94.7 364.1 L95.4 364.1 L96.1 364.0 L96.8 364.0 L97.4 364.0 L98.1 364.0 L98.8 364.0 L99.4 364.0 L100.0 364.0 L100.6 364.0 L101.2 364.0 L101.8 364.0 L102.4 364.0 L103.0 364.1 L103.6 364.1 L104.2 364.1 L104.8 364.1 L105.4 364.1 L106.0 364.2 L106.6 364.2 L107.2 364.2 L107.7 364.3 L108.3 364.3 L108.9 364.3 L109.5 364.4 L110.1 364.4 L110.7 364.5 L111.2 364.6 L111.8 364.6 L112.3 364.7 L112.9 364.8 L113.5 364.9 L114.0 365.0 L114.5 365.1 L115.1 365.2 L115.6 365.4 L116.1 365.5 L116.6 365.7 L117.2 365.8 L117.7 366.0 L118.2 366.2 L118.7 366.3 L119.2 366.5 L119.7 366.7 L120.2 366.9 L120.7 367.1 L121.2 367.3 L121.7 367.5 L122.1 367.7 L122.6 367.9 L123.1 368.0 L123.6 368.2 L124.1 368.4 L124.6 368.6 L125.0 368.7 L125.5 368.9 L126.0 369.0 L126.5 369.1 L126.9 369.3 L127.4 369.4 L127.9 369.5 L128.3 369.7 L128.8 369.8 L129.2 369.9 L129.7 370.1 L130.1 370.2 L130.6 370.3 L131.0 370.4 L131.4 370.6 L131.9 370.7 L132.3 370.8 L132.8 370.9 L133.2 371.0 L133.7 371.1 L134.1 371.2 L134.6 371.2 L135.1 371.3 L135.5 371.4 L136.0 371.4 L136.5 371.5 L137.0 371.5 L137.5 371.5 L138.0 371.5 L138.5 371.6 L139.0 371.6 L139.5 371.6 L140.0 371.6 L140.5 371.5 L141.0 371.5 L141.5 371.5 L142.0 371.5 L142.5 371.4 L143.1 371.4 L143.6 371.3 L144.1 371.3 L144.7 371.2 L145.2 371.1 L145.8 371.1 L146.4 371.0 L146.9 370.9 L147.5 370.9 L148.1 370.8 L148.7 370.7 L149.4 370.6 L150.0 370.5 L150.7 370.4 L151.4 370.3 L152.1 370.2 L152.9 370.0 L153.7 369.9 L154.6 369.7 L155.4 369.6 L156.3 369.4 L157.2 369.2 L158.1 369.0 L158.9 368.9 L159.8 368.7 L160.7 368.5 L161.5 368.3 L162.3 368.2 L163.1 368.0 L163.9 367.8 L164.6 367.7 L165.3 367.5 L166.0 367.4 L166.6 367.3 L167.1 367.2 L167.6 367.1 L168.0 367.0" fill="none" stroke="#9b4d69" stroke-width="1.60" stroke-linecap="round"/><path d="M86.1 364.5 L86.0 370.5 M91.1 364.2 L91.0 370.2 M96.1 364.0 L95.9 370.0 M101.1 364.0 L100.6 370.0 M106.1 364.2 L105.4 370.1 M111.1 364.6 L110.0 370.5 M116.0 365.5 L114.1 371.2 M120.7 367.1 L118.2 372.6 M125.4 368.8 L123.3 374.4 M130.2 370.2 L128.2 375.9 M135.1 371.3 L133.9 377.2 M140.1 371.6 L139.9 377.5 M145.0 371.2 L145.4 377.2 M150.0 370.5 L150.5 376.5 M154.9 369.7 L155.7 375.6 M159.8 368.7 L160.7 374.6 M164.7 367.7 L165.6 373.6" fill="none" stroke="#9b4d69" stroke-width="1.55"/>
<path d="M83.5 382.5 L83.8 382.6 L84.1 382.7 L84.5 382.8 L84.8 382.9 L85.3 383.1 L85.7 383.2 L86.2 383.4 L86.7 383.5 L87.2 383.7 L87.7 383.9 L88.3 384.0 L88.9 384.2 L89.5 384.4 L90.1 384.6 L90.7 384.8 L91.3 385.0 L91.9 385.2 L92.5 385.4 L93.1 385.6 L93.7 385.8 L94.3 385.9 L94.9 386.1 L95.4 386.3 L96.0 386.5 L96.6 386.7 L97.1 386.9 L97.7 387.1 L98.2 387.2 L98.8 387.4 L99.4 387.6 L100.0 387.8 L100.6 388.0 L101.1 388.2 L101.7 388.4 L102.3 388.6 L102.9 388.8 L103.5 389.0 L104.1 389.2 L104.7 389.4 L105.3 389.6 L105.9 389.8 L106.5 390.0 L107.1 390.2 L107.6 390.3 L108.2 390.5 L108.8 390.7 L109.4 390.8 L110.0 391.0 L110.6 391.2 L111.1 391.3 L111.7 391.4 L112.3 391.6 L112.8 391.7 L113.3 391.9 L113.9 392.0 L114.4 392.1 L114.9 392.3 L115.5 392.4 L116.0 392.5 L116.6 392.6 L117.1 392.7 L117.7 392.8 L118.2 393.0 L118.8 393.1 L119.4 393.2 L120.0 393.3 L120.6 393.4 L121.3 393.5 L121.9 393.5 L122.6 393.6 L123.3 393.7 L124.0 393.8 L124.7 393.9 L125.5 393.9 L126.3 394.0 L127.1 394.1 L127.9 394.1 L128.8 394.2 L129.6 394.2 L130.5 394.3 L131.4 394.3 L132.3 394.4 L133.2 394.4 L134.1 394.5 L135.0 394.5 L136.0 394.5 L136.9 394.6 L137.8 394.6 L138.7 394.6 L139.7 394.6 L140.6 394.7 L141.5 394.7 L142.4 394.7 L143.3 394.8 L144.1 394.8 L145.0 394.8 L145.9 394.8 L146.8 394.8 L147.7 394.9 L148.6 394.9 L149.6 394.9 L150.5 394.9 L151.5 394.9 L152.5 394.9 L153.5 394.9 L154.4 395.0 L155.4 395.0 L156.3 395.0 L157.2 395.0 L158.1 395.0 L159.0 395.0 L159.9 395.0 L160.7 395.0 L161.4 395.0 L162.2 395.0 L162.8 395.0 L163.5 395.0 L164.0 395.0 L164.6 395.0 L165.0 395.0" fill="none" stroke="#9b4d69" stroke-width="1.60" stroke-linecap="round"/><path d="M84.1 382.7 L81.9 388.3 M88.8 384.2 L86.7 389.8 M93.6 385.7 L91.4 391.3 M98.4 387.3 L96.1 392.8 M103.1 388.9 L100.8 394.4 M107.8 390.4 L105.8 396.0 M112.7 391.7 L110.8 397.4 M117.5 392.8 L116.0 398.6 M122.5 393.6 L121.4 399.5 M127.5 394.1 L126.7 400.1 M132.5 394.4 L131.8 400.4 M137.4 394.6 L136.9 400.6 M142.4 394.7 L141.9 400.7 M147.4 394.9 L147.0 400.8 M152.4 394.9 L152.0 400.9 M157.4 395.0 L157.1 401.0 M162.4 395.0 L162.1 401.0" fill="none" stroke="#9b4d69" stroke-width="1.55"/>
<path d="M357.5 374.7 L357.8 374.7 L358.2 374.7 L358.6 374.7 L359.1 374.7 L359.6 374.6 L360.1 374.6 L360.7 374.6 L361.3 374.6 L361.9 374.6 L362.5 374.5 L363.2 374.5 L363.9 374.5 L364.6 374.5 L365.3 374.5 L366.0 374.5 L366.7 374.4 L367.4 374.4 L368.1 374.4 L368.8 374.4 L369.4 374.4 L370.1 374.4 L370.8 374.5 L371.4 374.5 L372.0 374.5 L372.6 374.5 L373.2 374.6 L373.8 374.6 L374.4 374.6 L375.0 374.7 L375.6 374.7 L376.2 374.7 L376.8 374.8 L377.4 374.8 L378.0 374.9 L378.6 374.9 L379.2 375.0 L379.7 375.0 L380.3 375.1 L380.9 375.2 L381.5 375.3 L382.1 375.3 L382.7 375.4 L383.2 375.5 L383.8 375.6 L384.3 375.7 L384.9 375.8 L385.5 375.9 L386.0 376.0 L386.5 376.1 L387.1 376.2 L387.6 376.4 L388.1 376.5 L388.6 376.7 L389.1 376.8 L389.6 377.0 L390.1 377.2 L390.6 377.4 L391.1 377.5 L391.6 377.7 L392.1 377.9 L392.6 378.1 L393.1 378.3 L393.6 378.5 L394.1 378.6 L394.6 378.8 L395.0 379.0 L395.5 379.2 L396.0 379.4 L396.5 379.5 L397.0 379.7 L397.5 379.9 L398.0 380.0 L398.5 380.1 L399.0 380.3 L399.5 380.5 L400.0 380.6 L400.5 380.8 L401.0 380.9 L401.4 381.1 L401.9 381.2 L402.4 381.4 L402.9 381.5 L403.4 381.7 L403.9 381.8 L404.4 382.0 L404.9 382.1 L405.4 382.2 L405.9 382.4 L406.4 382.5 L406.9 382.6 L407.4 382.7 L407.9 382.8 L408.4 382.8 L408.9 382.9 L409.5 383.0 L410.0 383.0 L410.5 383.0 L411.1 383.0 L411.6 383.0 L412.2 383.0 L412.8 383.0 L413.3 383.0 L413.9 383.0 L414.5 382.9 L415.1 382.9 L415.6 382.8 L416.2 382.8 L416.8 382.7 L417.4 382.6 L418.0 382.5 L418.6 382.4 L419.2 382.4 L419.8 382.3 L420.4 382.2 L421.0 382.1 L421.6 381.9 L422.2 381.8 L422.8 381.7 L423.4 381.6 L424.0 381.5 L424.6 381.4 L425.3 381.2 L425.9 381.1 L426.6 380.9 L427.3 380.8 L428.0 380.6 L428.8 380.4 L429.5 380.2 L430.2 380.0 L430.9 379.8 L431.7 379.6 L432.4 379.4 L433.1 379.2 L433.8 379.0 L434.4 378.8 L435.1 378.6 L435.7 378.4 L436.3 378.3 L436.8 378.1 L437.4 378.0 L437.8 377.8 L438.3 377.7 L438.7 377.6 L439.0 377.5" fill="none" stroke="#9b4d69" stroke-width="1.60" stroke-linecap="round"/><path d="M358.1 374.7 L357.9 380.7 M363.1 374.5 L362.9 380.5 M368.1 374.4 L367.7 380.4 M373.1 374.6 L372.4 380.5 M378.1 374.9 L377.2 380.8 M383.0 375.5 L381.8 381.3 M387.9 376.5 L386.0 382.2 M392.7 378.1 L390.2 383.6 M397.4 379.8 L395.2 385.4 M402.1 381.3 L400.0 386.9 M407.0 382.6 L405.5 388.4 M411.9 383.0 L411.6 389.0 M416.9 382.7 L417.3 388.7 M421.9 381.9 L422.6 387.9 M426.8 380.9 L427.8 386.8 M431.6 379.6 L432.8 385.5 M436.4 378.2 L437.7 384.1" fill="none" stroke="#9b4d69" stroke-width="1.55"/>
<path d="M392.6 398.3 L392.9 398.4 L393.1 398.5 L393.5 398.6 L393.8 398.7 L394.2 398.8 L394.6 398.9 L395.0 399.1 L395.5 399.2 L395.9 399.4 L396.4 399.5 L396.9 399.7 L397.4 399.9 L398.0 400.0 L398.5 400.2 L399.0 400.4 L399.6 400.6 L400.1 400.8 L400.7 400.9 L401.3 401.1 L401.8 401.3 L402.4 401.5 L402.9 401.7 L403.5 401.8 L404.0 402.0 L404.5 402.2 L405.1 402.4 L405.6 402.5 L406.2 402.7 L406.7 402.9 L407.3 403.1 L407.9 403.3 L408.5 403.5 L409.1 403.7 L409.6 403.9 L410.2 404.1 L410.8 404.3 L411.4 404.5 L412.0 404.7 L412.6 404.9 L413.2 405.1 L413.8 405.3 L414.4 405.5 L415.0 405.6 L415.6 405.8 L416.2 406.0 L416.8 406.2 L417.4 406.3 L418.0 406.5 L418.6 406.7 L419.1 406.8 L419.7 407.0 L420.3 407.1 L420.8 407.3 L421.4 407.4 L421.9 407.6 L422.4 407.7 L423.0 407.9 L423.5 408.0 L424.1 408.1 L424.6 408.3 L425.2 408.4 L425.7 408.5 L426.3 408.6 L426.9 408.8 L427.5 408.9 L428.1 409.0 L428.7 409.1 L429.3 409.2 L430.0 409.3 L430.6 409.3 L431.3 409.4 L432.0 409.5 L432.7 409.6 L433.5 409.6 L434.2 409.7 L435.0 409.7 L435.8 409.8 L436.6 409.8 L437.4 409.8 L438.2 409.9 L439.0 409.9 L439.9 409.9 L440.7 409.9 L441.6 409.9 L442.4 409.9 L443.3 409.9 L444.2 409.9 L445.0 409.9 L445.9 409.9 L446.8 409.9 L447.7 409.9 L448.5 409.9 L449.4 409.9 L450.3 409.8 L451.1 409.8 L452.0 409.8 L452.9 409.8 L453.8 409.7 L454.7 409.7 L455.7 409.7 L456.7 409.6 L457.7 409.6 L458.7 409.5 L459.7 409.4 L460.7 409.4 L461.7 409.3 L462.8 409.2 L463.8 409.2 L464.7 409.1 L465.7 409.0 L466.6 409.0 L467.5 408.9 L468.4 408.8 L469.2 408.8 L470.0 408.7 L470.7 408.7 L471.4 408.6 L472.0 408.6 L472.5 408.5 L473.0 408.5" fill="none" stroke="#9b4d69" stroke-width="1.60" stroke-linecap="round"/><path d="M393.2 398.5 L391.0 404.1 M397.9 400.0 L395.7 405.6 M402.7 401.6 L400.5 407.2 M407.4 403.1 L405.2 408.7 M412.2 404.7 L410.0 410.3 M416.9 406.2 L415.0 411.9 M421.8 407.5 L419.9 413.2 M426.6 408.7 L425.1 414.5 M431.6 409.5 L430.6 415.4 M436.6 409.8 L436.0 415.8 M441.6 409.9 L441.1 415.9 M446.6 409.9 L446.3 415.9 M451.6 409.8 L451.3 415.8 M456.5 409.6 L456.5 415.6 M461.5 409.3 L461.6 415.3 M466.5 409.0 L466.6 415.0 M471.5 408.6 L471.6 414.6" fill="none" stroke="#9b4d69" stroke-width="1.55"/>
<path d="M529.4 311.7 L529.6 311.8 L529.9 311.9 L530.2 312.1 L530.6 312.2 L530.9 312.4 L531.3 312.5 L531.7 312.7 L532.2 312.9 L532.6 313.1 L533.1 313.3 L533.6 313.5 L534.1 313.7 L534.6 313.9 L535.1 314.2 L535.6 314.4 L536.1 314.6 L536.6 314.9 L537.1 315.1 L537.6 315.3 L538.1 315.6 L538.6 315.8 L539.1 316.0 L539.6 316.3 L540.0 316.5 L540.4 316.7 L540.9 317.0 L541.3 317.2 L541.7 317.4 L542.1 317.6 L542.5 317.9 L543.0 318.1 L543.4 318.4 L543.8 318.6 L544.2 318.8 L544.6 319.1 L545.0 319.3 L545.5 319.6 L545.9 319.8 L546.3 320.1 L546.7 320.4 L547.1 320.6 L547.5 320.9 L547.9 321.1 L548.3 321.4 L548.8 321.7 L549.2 322.0 L549.6 322.2 L550.0 322.5 L550.4 322.8 L550.8 323.1 L551.2 323.4 L551.7 323.6 L552.1 323.9 L552.5 324.2 L552.9 324.5 L553.3 324.8 L553.8 325.1 L554.2 325.5 L554.6 325.8 L555.0 326.1 L555.4 326.4 L555.8 326.7 L556.2 327.0 L556.7 327.3 L557.1 327.6 L557.5 328.0 L557.9 328.3 L558.3 328.6 L558.8 328.9 L559.2 329.2 L559.6 329.5 L560.0 329.8 L560.4 330.1 L560.8 330.4 L561.3 330.7 L561.7 331.0 L562.1 331.4 L562.5 331.7 L563.0 332.0 L563.4 332.3 L563.8 332.6 L564.3 333.0 L564.7 333.3 L565.1 333.6 L565.6 333.9 L566.0 334.2 L566.4 334.5 L566.8 334.8 L567.2 335.1 L567.6 335.4 L568.0 335.7 L568.4 336.0 L568.8 336.3 L569.2 336.5 L569.6 336.8 L570.0 337.0 L570.4 337.2 L570.7 337.5 L571.1 337.7 L571.4 337.9 L571.8 338.1 L572.1 338.3 L572.5 338.5 L572.8 338.7 L573.1 338.9 L573.5 339.0 L573.8 339.2 L574.1 339.4 L574.4 339.5 L574.8 339.7 L575.1 339.8 L575.4 340.0 L575.7 340.1 L576.0 340.3 L576.4 340.4 L576.7 340.5 L577.0 340.7 L577.3 340.8 L577.7 340.9 L578.0 341.0 L578.3 341.1 L578.6 341.2 L579.0 341.3 L579.3 341.4 L579.6 341.5 L579.9 341.5 L580.2 341.6 L580.4 341.7 L580.7 341.7 L581.0 341.8 L581.3 341.8 L581.6 341.9 L581.9 341.9 L582.2 342.0 L582.6 342.0 L582.9 342.0 L583.2 342.1 L583.6 342.1 L583.9 342.1 L584.3 342.2 L584.7 342.2 L585.1 342.2 L585.6 342.3 L586.0 342.3 L586.5 342.3 L586.9 342.4 L587.4 342.4 L587.9 342.4 L588.4 342.5 L588.9 342.5 L589.5 342.5 L590.0 342.6 L590.5 342.6 L591.1 342.6 L591.7 342.6 L592.2 342.6 L592.8 342.7 L593.4 342.7 L594.0 342.7 L594.7 342.7 L595.3 342.7 L595.9 342.7 L596.6 342.8 L597.2 342.8 L597.9 342.8 L598.6 342.8 L599.3 342.8 L600.0 342.8 L600.7 342.8 L601.5 342.8 L602.2 342.8 L603.0 342.8 L603.8 342.8 L604.6 342.8 L605.5 342.8 L606.3 342.8 L607.2 342.8 L608.0 342.8 L608.9 342.8 L609.8 342.8 L610.7 342.7 L611.6 342.7 L612.4 342.7 L613.3 342.7 L614.2 342.7 L615.0 342.7 L615.9 342.7 L616.8 342.7 L617.6 342.6 L618.4 342.6 L619.2 342.6 L620.0 342.6 L620.8 342.6 L621.6 342.6 L622.4 342.6 L623.2 342.5 L624.1 342.5 L624.9 342.5 L625.8 342.5 L626.6 342.5 L627.4 342.4 L628.3 342.4 L629.1 342.4 L629.9 342.4 L630.7 342.4 L631.5 342.3 L632.2 342.3 L632.9 342.3 L633.6 342.3 L634.3 342.3 L634.9 342.3 L635.4 342.2 L636.0 342.2 L636.5 342.2 L636.9 342.2 L637.3 342.2" fill="none" stroke="#9b4d69" stroke-width="1.60" stroke-linecap="round"/><path d="M529.9 311.9 L527.2 317.3 M534.5 313.9 L531.8 319.3 M539.1 316.0 L536.1 321.2 M543.5 318.4 L540.1 323.4 M547.7 321.0 L544.2 325.9 M551.9 323.8 L548.1 328.5 M555.9 326.8 L552.0 331.3 M559.9 329.7 L556.1 334.4 M563.9 332.7 L560.1 337.3 M568.0 335.7 L564.3 340.4 M572.2 338.3 L568.9 343.4 M576.7 340.5 L574.2 346.0 M581.5 341.9 L580.3 347.7 M586.5 342.3 L585.7 348.3 M591.5 342.6 L590.9 348.6 M596.5 342.8 L596.0 348.7 M601.5 342.8 L601.1 348.8 M606.5 342.8 L606.2 348.8 M611.5 342.7 L611.2 348.7 M616.5 342.7 L616.2 348.7 M621.5 342.6 L621.2 348.6 M626.5 342.5 L626.3 348.5 M631.5 342.3 L631.3 348.3 M636.5 342.2 L636.3 348.2" fill="none" stroke="#9b4d69" stroke-width="1.55"/>

<!-- proteins -->
<use href="#protein" x="604.5" y="83"/>
<use href="#protein" x="688.5" y="103.5"/>
<use href="#protein" x="540.5" y="199"/>

<!-- arrows -->
<g fill="none" stroke="#231f20" stroke-width="2.3" stroke-linecap="round">
<path d="M168.8 250.9 Q141 278 137.5 306"/><use href="#ah" stroke="none" transform="translate(137 315.6) rotate(92)"/>
<path d="M195 416 Q245 428 289.5 419.3"/><use href="#ah" stroke="none" transform="translate(300.6 417.5) rotate(-9)"/>
<path d="M477 398 Q520 398 553 371.4"/><use href="#ah" stroke="none" transform="translate(560 362.4) rotate(-52)"/>
<path d="M595.4 290.2 Q607 258 589.2 238.4"/><use href="#ah" stroke="none" transform="translate(576.7 230.9) rotate(-149)"/>
<path d="M564.4 165 Q567 138 590.4 127.6"/><use href="#ah" stroke="none" transform="translate(601 120.5) rotate(-34)"/>
</g>


<!-- frame -->
<g>
  <polygon points="3,3 15,15 15,495 3,506" fill="url(#fl)"/>
  <polygon points="3,3 792,3 779,15 15,15" fill="url(#ft)"/>
  <polygon points="792,3 792,506 779,495 779,15" fill="url(#fr)"/>
  <polygon points="3,506 15,494 779,494 792,506" fill="url(#fb)"/>
  <path d="M0 0 H795 V509 H0 Z M2.5 2.5 V506.5 H792.5 V2.5 Z" fill="#fff" fill-rule="evenodd"/>
  <rect x="2.5" y="2.5" width="790" height="504" fill="none" stroke="#6b2221" stroke-width="1.2" rx="1"/>
</g>
<!-- labels -->
<text x="15.7" y="29.2" font-size="17.8" textLength="65.26" lengthAdjust="spacingAndGlyphs">5’Cap</text>
<text x="96.54" y="62.1" font-size="18.3" textLength="58.82" lengthAdjust="spacingAndGlyphs">5’UTR</text>
<text x="183.98" y="62.1" font-size="18.3" textLength="42.76" lengthAdjust="spacingAndGlyphs">ORF</text>
<text x="272.82" y="51" font-size="18.3" textLength="57.76" lengthAdjust="spacingAndGlyphs">3’UTR</text>
<text x="166.76" y="126" font-size="19.2" textLength="78.54" lengthAdjust="spacingAndGlyphs" class="b">mRNA</text>
<text x="562.2" y="46.5" font-size="19.8" textLength="185.98" lengthAdjust="spacingAndGlyphs" class="b">Protein release</text>
<text x="429.64" y="174.9" font-size="19" textLength="85.88" lengthAdjust="spacingAndGlyphs" class="m">Protein</text>
<text x="613.45" y="261.2" font-size="19.8" textLength="137.94" lengthAdjust="spacingAndGlyphs" class="m">Translation</text>
<text x="163.42" y="290.6" font-size="19.7" textLength="145.6" lengthAdjust="spacingAndGlyphs" class="m">Endocytosis</text>
<text x="560.5" y="392.3" font-size="19.4" textLength="122.3" lengthAdjust="spacingAndGlyphs" class="m">Ribosome</text>
<text x="302.3" y="472.5" font-size="19.9" textLength="138.34" lengthAdjust="spacingAndGlyphs" class="m">Endosomal</text>
<text x="326.32" y="496" font-size="19.9" textLength="89.64" lengthAdjust="spacingAndGlyphs" class="m">escape</text>
<text x="529.2" y="472.7" font-size="19.9" textLength="230.6" lengthAdjust="spacingAndGlyphs" class="b">Protein expression</text>
<text x="352.6" y="56.4" font-size="17.8" textLength="80" lengthAdjust="spacingAndGlyphs">poly(<tspan font-size="14.2">A</tspan>)</text>
<text x="0" y="0" font-size="15" font-style="italic" textLength="40" lengthAdjust="spacingAndGlyphs" transform="translate(362 84.8) rotate(28)">AAA</text>
</svg>
</body>
</html>
